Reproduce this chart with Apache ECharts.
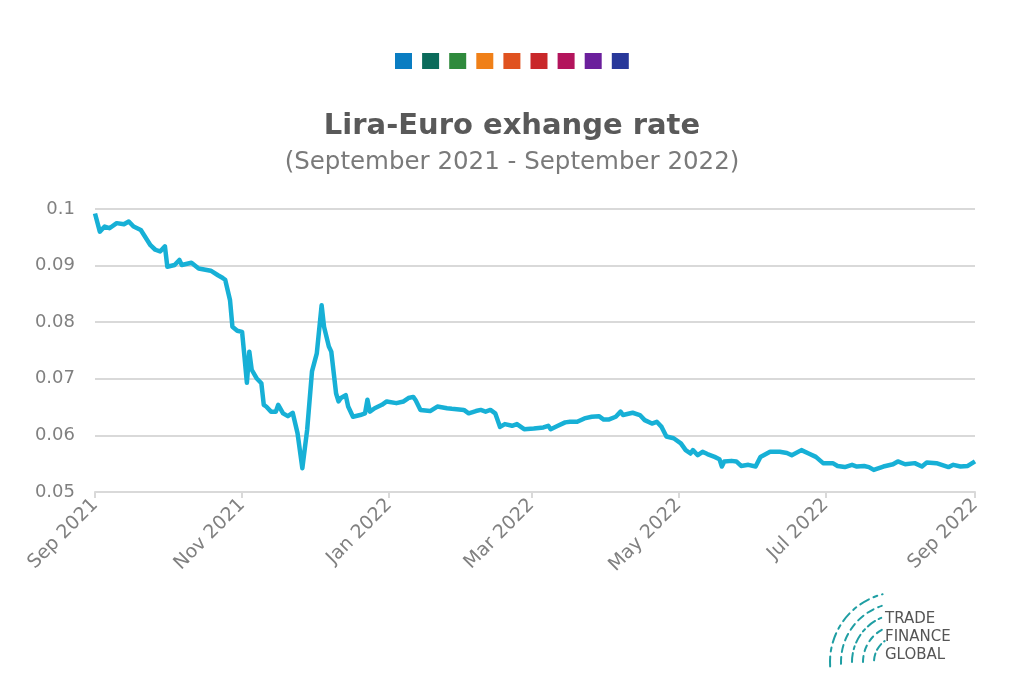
<!DOCTYPE html>
<html>
<head>
<meta charset="utf-8">
<script src="https://cdn.jsdelivr.net/npm/echarts@6/dist/echarts.min.js"></script>
<style>
html,body{margin:0;padding:0;background:#fff;}
#chart{width:1024px;height:698px;}
</style>
</head>
<body>
<div id="chart"></div>
<script>
// ---- data ----
const dates = [
'2021-09-01','2021-09-03','2021-09-05','2021-09-07','2021-09-10','2021-09-13','2021-09-15','2021-09-17','2021-09-20','2021-09-24',
'2021-09-26','2021-09-28','2021-09-30','2021-10-01','2021-10-04','2021-10-06','2021-10-07','2021-10-11','2021-10-14','2021-10-19',
'2021-10-22','2021-10-24','2021-10-25','2021-10-27','2021-10-28','2021-10-30','2021-11-01','2021-11-02','2021-11-03','2021-11-04',
'2021-11-05','2021-11-07','2021-11-09','2021-11-10','2021-11-11','2021-11-13','2021-11-15','2021-11-16','2021-11-18','2021-11-20',
'2021-11-22','2021-11-24','2021-11-26','2021-11-28','2021-11-30','2021-12-02','2021-12-04','2021-12-05','2021-12-07','2021-12-08',
'2021-12-10','2021-12-11','2021-12-12','2021-12-14','2021-12-15','2021-12-17','2021-12-20','2021-12-22','2021-12-23','2021-12-24',
'2021-12-26','2021-12-29','2021-12-31','2022-01-04','2022-01-07','2022-01-09','2022-01-11','2022-01-12','2022-01-14','2022-01-18',
'2022-01-21','2022-01-25','2022-01-27','2022-02-01','2022-02-03','2022-02-06','2022-02-08','2022-02-10','2022-02-12','2022-02-14',
'2022-02-16','2022-02-18','2022-02-21','2022-02-23','2022-02-26','2022-03-02','2022-03-06','2022-03-08','2022-03-09','2022-03-12',
'2022-03-15','2022-03-17','2022-03-20','2022-03-23','2022-03-26','2022-03-29','2022-03-31','2022-04-02','2022-04-05','2022-04-07',
'2022-04-08','2022-04-12','2022-04-15','2022-04-17','2022-04-20','2022-04-22','2022-04-24','2022-04-26','2022-04-29','2022-05-02',
'2022-05-04','2022-05-06','2022-05-07','2022-05-09','2022-05-11','2022-05-13','2022-05-16','2022-05-18','2022-05-19','2022-05-20',
'2022-05-23','2022-05-25','2022-05-27','2022-05-30','2022-06-02','2022-06-04','2022-06-08','2022-06-12','2022-06-15','2022-06-17',
'2022-06-21','2022-06-24','2022-06-27','2022-06-30','2022-07-04','2022-07-06','2022-07-09','2022-07-12','2022-07-14','2022-07-17',
'2022-07-19','2022-07-21','2022-07-25','2022-07-29','2022-07-31','2022-08-03','2022-08-07','2022-08-10','2022-08-12','2022-08-16',
'2022-08-21','2022-08-23','2022-08-26','2022-08-29','2022-09-01'
];
const rates = [
0.0992,0.0960,0.0969,0.0966,0.0975,0.0973,0.0978,0.0969,0.0963,0.0936,
0.0928,0.0925,0.0934,0.0898,0.0901,0.0910,0.0901,0.0905,0.0895,0.0891,
0.0883,0.0878,0.0875,0.0839,0.0792,0.0785,0.0783,0.0739,0.0693,0.0748,
0.0716,0.0701,0.0692,0.0654,0.0651,0.0642,0.0642,0.0654,0.0639,0.0634,
0.0640,0.0604,0.0542,0.0610,0.0713,0.0745,0.0830,0.0792,0.0757,0.0748,
0.0674,0.0660,0.0666,0.0671,0.0651,0.0633,0.0636,0.0639,0.0663,0.0642,
0.0648,0.0654,0.0660,0.0657,0.0660,0.0666,0.0668,0.0662,0.0645,0.0643,
0.0651,0.0648,0.0647,0.0645,0.0639,0.0643,0.0645,0.0642,0.0645,0.0639,
0.0615,0.0620,0.0617,0.0620,0.0611,0.0612,0.0614,0.0617,0.0611,0.0617,
0.0623,0.0624,0.0624,0.0630,0.0633,0.0634,0.0628,0.0628,0.0633,0.0642,
0.0636,0.0640,0.0636,0.0627,0.0621,0.0624,0.0615,0.0598,0.0595,0.0586,
0.0574,0.0568,0.0574,0.0565,0.0571,0.0567,0.0562,0.0558,0.0545,0.0554,
0.0555,0.0554,0.0546,0.0548,0.0545,0.0562,0.0571,0.0571,0.0569,0.0565,
0.0574,0.0568,0.0562,0.0551,0.0551,0.0546,0.0544,0.0548,0.0545,0.0546,
0.0544,0.0539,0.0545,0.0549,0.0554,0.0549,0.0551,0.0545,0.0552,0.0551,
0.0544,0.0548,0.0545,0.0546,0.0554
];
const xTickDates = ['2021-09-01','2021-11-01','2022-01-01','2022-03-01','2022-05-01','2022-07-01','2022-09-01'];
const xTickLabels = ['Sep 2021','Nov 2021','Jan 2022','Mar 2022','May 2022','Jul 2022','Sep 2022'];
const paletteSquares = ['#0a7dc2','#0b6b5b','#2f8a3c','#f08018','#e0521f','#c9282a','#b3145c','#6b1f9c','#28389a'];
const titleText = 'Lira-Euro exhange rate';
const subtitleText = '(September 2021 - September 2022)';
const logoLines = ['TRADE','FINANCE','GLOBAL'];

// ---- helpers ----
function ts(s){ const p = s.split('-').map(Number); return Date.UTC(p[0], p[1]-1, p[2]); }
const tickTs = xTickDates.map(ts);
const seriesData = dates.map((d,i)=>[ts(d), rates[i]]);

const FONT = 'DejaVu Sans';
const graphics = [];
paletteSquares.forEach((c,i)=>{
  graphics.push({type:'rect', left:395 + i*27.1, top:53, shape:{width:17,height:16}, style:{fill:c}});
});
// logo arcs (decorative)
const logoColor = '#1f9ea3';
const arcs = [
  {r:70, dash:[10,5,4,5], s:0.98, e:1.42},
  {r:59, dash:[7,5], s:0.99, e:1.40},
  {r:48, dash:[9,4,3,4], s:1.0, e:1.38},
  {r:37, dash:[6,5], s:1.0, e:1.34},
  {r:26, dash:[7,4], s:1.02, e:1.30}
];
arcs.forEach(a=>{
  graphics.push({type:'arc', shape:{cx:900, cy:662, r:a.r, startAngle:Math.PI*a.s, endAngle:Math.PI*a.e, clockwise:true},
    style:{stroke:logoColor, lineWidth:2, fill:null, lineDash:a.dash, lineCap:'round'}});
});
logoLines.forEach((t,i)=>{
  graphics.push({type:'text', left:885, top:612 + i*18, style:{text:t, fill:'#555555', font:'15px "DejaVu Sans"'}});
});

const chart = echarts.init(document.getElementById('chart'), null, {renderer:'canvas'});
chart.setOption({
  animation:false,
  backgroundColor:'#ffffff',
  title:{
    text:titleText,
    subtext:subtitleText,
    left:'center',
    top:107,
    itemGap:9,
    textStyle:{fontFamily:FONT, fontSize:29, fontWeight:'bold', color:'#595959'},
    subtextStyle:{fontFamily:FONT, fontSize:24.5, color:'#7a7a7a'}
  },
  graphic:graphics,
  grid:{left:95, right:49, top:209, bottom:206, containLabel:false},
  xAxis:{
    type:'value',
    min:tickTs[0],
    max:tickTs[tickTs.length-1],
    axisLine:{show:true, lineStyle:{color:'#d9d9d9', width:2}},
    axisTick:{show:true, length:6, lineStyle:{color:'#d9d9d9', width:2}, customValues:tickTs},
    splitLine:{show:false},
    axisLabel:{
      customValues:tickTs,
      rotate:45,
      margin:10,
      color:'#808080',
      fontFamily:FONT,
      fontSize:19,
      formatter:function(v){ const i = tickTs.indexOf(v); return i>=0 ? xTickLabels[i] : ''; }
    }
  },
  yAxis:{
    type:'value',
    min:0.05,
    max:0.1,
    interval:0.01,
    axisLine:{show:false},
    axisTick:{show:false},
    splitLine:{lineStyle:{color:'#d9d9d9', width:2}},
    axisLabel:{color:'#808080', fontFamily:FONT, fontSize:18, margin:20}
  },
  series:[{
    type:'line',
    data:seriesData,
    showSymbol:false,
    symbol:'none',
    lineStyle:{color:'#17b0d6', width:4.5, join:'round'},
    z:5
  }]
});
</script>
</body>
</html>
